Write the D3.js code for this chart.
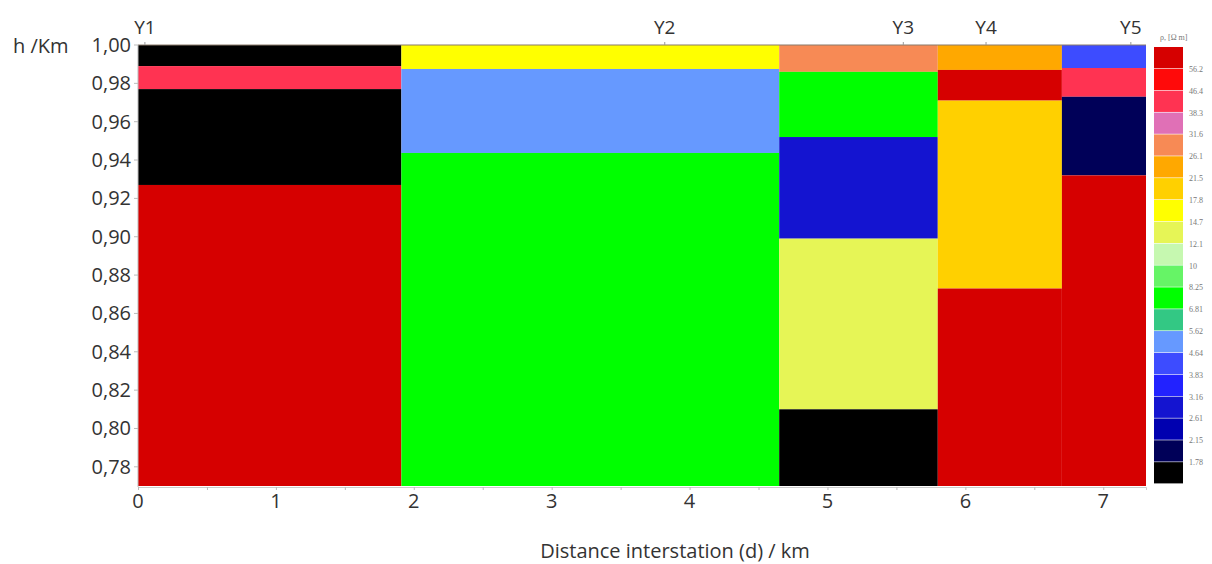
<!DOCTYPE html>
<html><head><meta charset="utf-8">
<script src="https://cdn.jsdelivr.net/npm/d3@7"></script>
<style>body{margin:0;background:#fff}svg{display:block}</style>
</head><body><svg id="c" width="1212" height="564"></svg>
<script>
// ---- data ----
const columnEdges = [0, 1.91, 4.65, 5.80, 6.70, 7.31];           // km
const stations = ["Y1", "Y2", "Y3", "Y4", "Y5"];
const stationD = [0.05, 3.82, 5.55, 6.15, 7.2];
const layerColumn = [0,0,0,0, 1,1,1, 2,2,2,2,2, 3,3,3,3, 4,4,4,4];
const layerTop    = [1.000,0.989,0.977,0.927, 1.000,0.9875,0.9437, 1.000,0.986,0.952,0.899,0.810, 1.000,0.987,0.971,0.873, 1.000,0.988,0.973,0.932];
const layerBottom = [0.989,0.977,0.927,0.770, 0.9875,0.9437,0.770, 0.986,0.952,0.899,0.810,0.770, 0.987,0.971,0.873,0.770, 0.988,0.973,0.932,0.770];
const layerClass  = [19,2,19,0, 7,13,11, 4,11,16,8,19, 5,0,6,0, 14,2,18,0];
const classColors = ["#d60000","#ff0a0a","#ff3352","#e070b6","#f78a55","#ffa800","#ffd000","#ffff00","#e6f556","#c6f8b0",
                     "#66f466","#00ff00","#33c884","#6699ff","#3d4cff","#2222ff","#1414d0","#0000b0","#000058","#000000"];
const legendLabels = ["56.2","46.4","38.3","31.6","26.1","21.5","17.8","14.7","12.1","10","8.25","6.81","5.62","4.64","3.83","3.16","2.61","2.15","1.78"];
const xTicks = [0,1,2,3,4,5,6,7];
const yTicks = [1.00,0.98,0.96,0.94,0.92,0.90,0.88,0.86,0.84,0.82,0.80,0.78];

// ---- chart ----
const svg = d3.select("#c");
const x = d3.scaleLinear().domain([0, 7.31]).range([138, 1146]);
const y = d3.scaleLinear().domain([0.77, 1.00]).range([486, 45]);
const font = "'Open Sans', sans-serif";
const txt = "#333";

svg.append("g").selectAll("rect").data(layerTop.map((t,i)=>i)).join("rect")
  .attr("x", i => x(columnEdges[layerColumn[i]]))
  .attr("width", i => x(columnEdges[layerColumn[i]+1]) - x(columnEdges[layerColumn[i]]))
  .attr("y", i => y(layerTop[i]))
  .attr("height", i => y(layerBottom[i]) - y(layerTop[i]))
  .attr("fill", i => classColors[layerClass[i]]);

// frame lines
svg.append("line").attr("x1", x(0)).attr("x2", x(7.31)).attr("y1", 45).attr("y2", 45).attr("stroke", "#8a7a6a").attr("stroke-width", 1.2);
svg.append("line").attr("x1", x(0)).attr("x2", x(0)).attr("y1", 45).attr("y2", 487).attr("stroke", "#bbb");

// x axis
const xa = svg.append("g").attr("transform", "translate(0,487)")
  .call(d3.axisBottom(x).tickValues(d3.range(0, 7.31, 0.5)).tickSize(3).tickFormat(""));
xa.select(".domain").attr("stroke", "#ccc");
xa.selectAll(".tick line").attr("stroke", "#bbb");
svg.append("g").selectAll("text").data(xTicks).join("text")
  .attr("x", d => x(d)).attr("y", 508).attr("text-anchor", "middle")
  .attr("font-family", font).attr("font-size", 20).attr("fill", txt).text(d => d);
svg.append("text").attr("x", 675).attr("y", 558).attr("text-anchor", "middle")
  .attr("font-family", font).attr("font-size", 20).attr("fill", txt)
  .text("Distance  interstation (d) / km");

// y axis
svg.append("g").selectAll("text").data(yTicks).join("text")
  .attr("x", 131).attr("y", d => y(d) + 7).attr("text-anchor", "end")
  .attr("font-family", font).attr("font-size", 20).attr("fill", txt)
  .text(d => d.toFixed(2).replace(".", ","));
svg.append("g").selectAll("line").data(yTicks).join("line")
  .attr("x1", 134).attr("x2", 138).attr("y1", d => y(d)).attr("y2", d => y(d)).attr("stroke", "#bbb");
svg.append("text").attr("x", 13).attr("y", 53).attr("font-family", font).attr("font-size", 20).attr("fill", txt).text("h /Km");

// stations
svg.append("g").selectAll("text").data(stations).join("text")
  .attr("x", (d,i) => x(stationD[i])).attr("y", 34).attr("text-anchor", "middle")
  .attr("font-family", font).attr("font-size", 19).attr("fill", txt).text(d => d);
svg.append("g").selectAll("line").data(stations).join("line")
  .attr("x1", (d,i) => x(stationD[i])).attr("x2", (d,i) => x(stationD[i]))
  .attr("y1", 42).attr("y2", 45).attr("stroke", "#999");

// legend
const lg = d3.scaleBand().domain(d3.range(classColors.length)).range([47, 484]);
svg.append("g").selectAll("rect").data(classColors).join("rect")
  .attr("x", 1154).attr("width", 29).attr("y", (d,i) => lg(i)).attr("height", lg.bandwidth() - 0.6)
  .attr("fill", d => d);
svg.append("g").selectAll("text").data(legendLabels).join("text")
  .attr("x", 1189).attr("y", (d,i) => lg(i+1) + 3).attr("font-family", "'Liberation Serif', serif")
  .attr("font-size", 8).attr("fill", "#777").text(d => d);
svg.append("text").attr("x", 1160).attr("y", 40).attr("font-family", "'Liberation Serif', serif")
  .attr("font-size", 8).attr("fill", "#777").text("ρ, [Ω m]");
</script></body></html>
